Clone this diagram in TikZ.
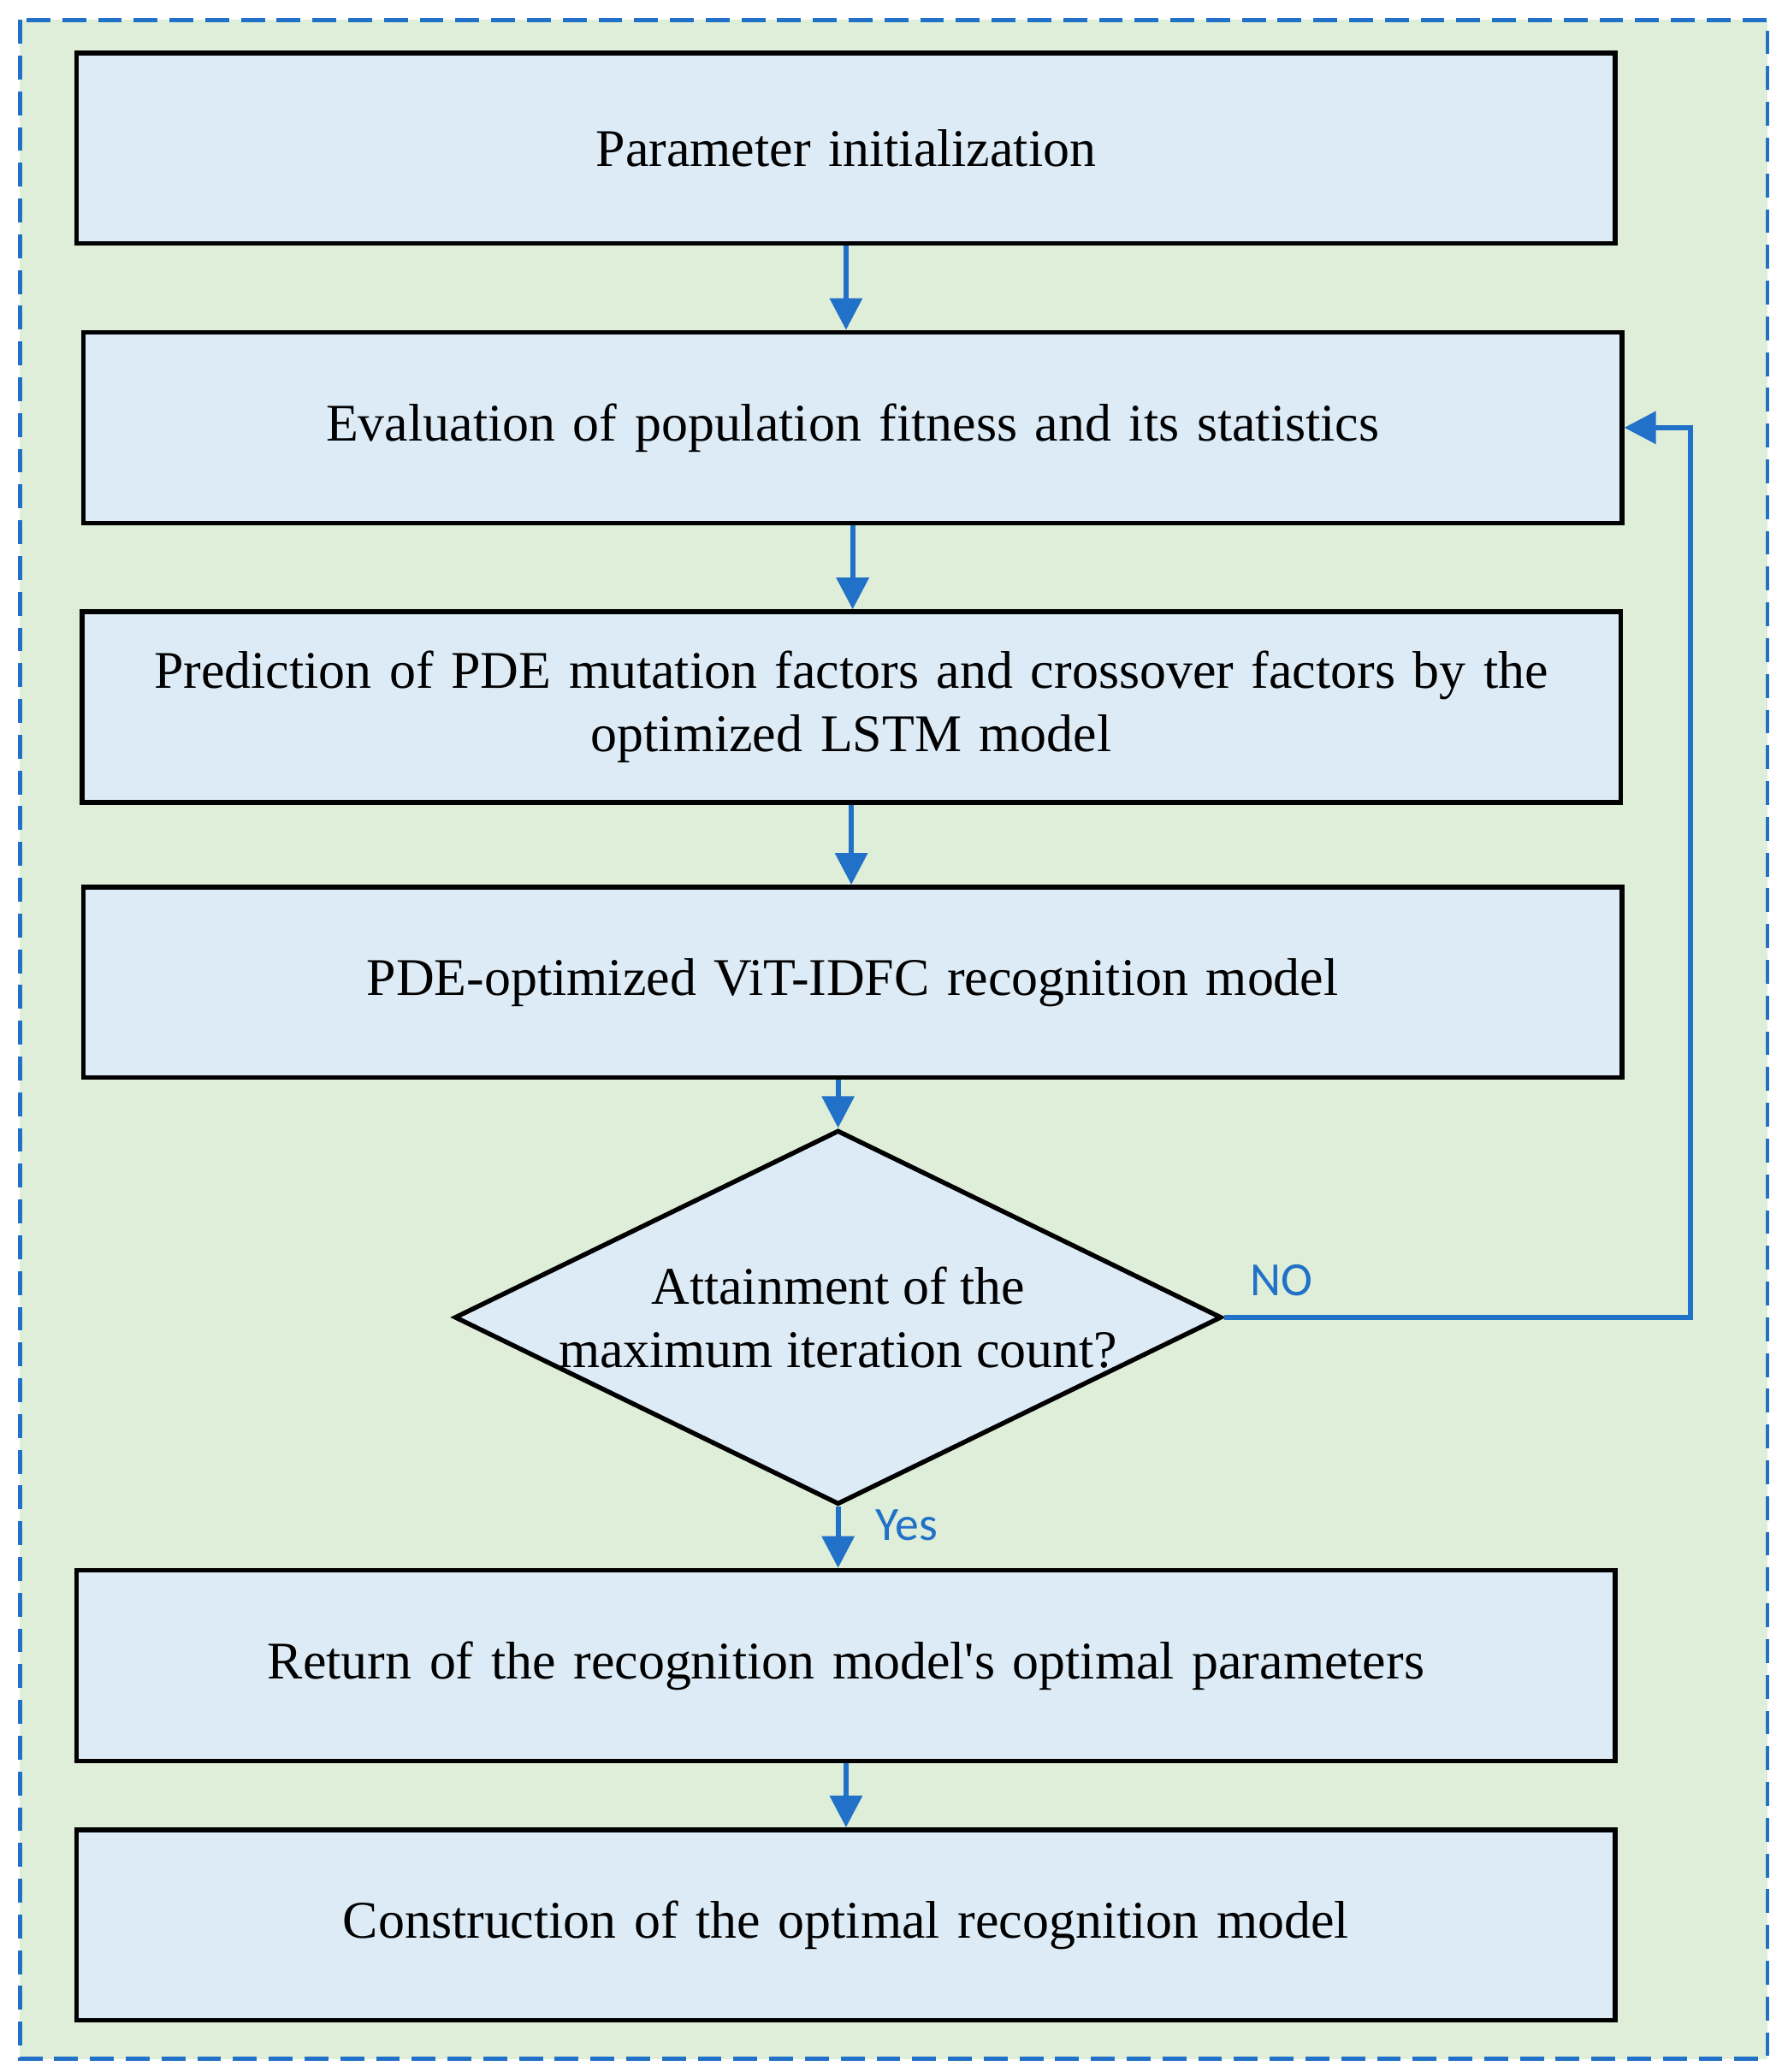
\documentclass[tikz,border=0pt]{standalone}
\usepackage{fontspec}
\setmainfont{Liberation Serif}
\newfontfamily\lblfont{Carlito}
\usetikzlibrary{arrows.meta,shapes.geometric}
\definecolor{flowblue}{RGB}{34,113,200}
\definecolor{bggreen}{RGB}{223,238,216}
\definecolor{boxblue}{RGB}{220,235,246}
\tikzset{
  stage/.style={draw=black,line width=3.5pt,fill=boxblue,minimum width=1162pt,minimum height=144pt,
    text width=1130pt,align=center,font=\fontsize{40}{48}\selectfont},
  flow/.style={draw=flowblue,line width=4pt,-{Triangle[length=24pt,width=24pt]}},
  lbl/.style={text=flowblue,font=\lblfont\fontsize{36}{42}\selectfont}
}
\begin{document}
\begin{tikzpicture}[x=1pt,y=1pt,yscale=-1]
\useasboundingbox (0,0) rectangle (1350,1565);
%outer frame
\draw [draw=flowblue,fill=bggreen,line width=3pt,dash pattern=on 18pt off 9pt] (15,15) rectangle (1335,1555);

% Steps
\node [stage] (init) at (639,112) {Parameter initialization};
\node [stage] (eval) at (644,323) {Evaluation of population fitness and its statistics};
\node [stage] (pred) at (643,534) {Prediction of PDE mutation factors and crossover factors by the\\optimized LSTM model};
\node [stage] (vit) at (644,742) {PDE-optimized ViT-IDFC recognition model};
\node [draw=black,line width=3.5pt,fill=boxblue,diamond,aspect=2.05,minimum width=545pt,minimum height=266pt,
  inner sep=0pt,align=center,font=\fontsize{40}{48}\selectfont] (test) at (633,995) {Attainment of the\\maximum iteration count?};
\node [stage] (ret) at (639,1258) {Return of the recognition model\textquotesingle s optimal parameters};
\node [stage] (build) at (639,1454) {Construction of the optimal recognition model};

% Connectors
\draw [flow] (init) -- (init |- eval.north);
\draw [flow] (eval) -- (eval |- pred.north);
\draw [flow] (pred) -- (pred |- vit.north);
\draw [flow] (test.north |- vit.south) -- (test.north);
\draw [flow] (test) -- (ret.north -| test.south);
\draw [flow] (ret) -- (build);
\coordinate (turn) at (1277,995);
\draw [flow] (test.east) -- (turn) |- (eval.east);

% Labels
\node [lbl] (no) at (968,967) {NO};
\node [lbl] (yes) at (685,1152) {Yes};
\end{tikzpicture}
\end{document}
